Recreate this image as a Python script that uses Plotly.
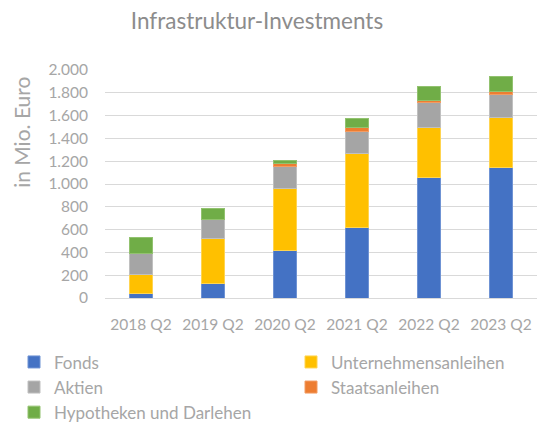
import plotly.graph_objects as go

categories = ["2018 Q2", "2019 Q2", "2020 Q2", "2021 Q2", "2022 Q2", "2023 Q2"]
fonds = [37, 125, 417, 617, 1060, 1146]
unternehmensanleihen = [169, 397, 543, 652, 434, 439]
aktien = [182, 167, 191, 193, 217, 202]
staatsanleihen = [0, 0, 30, 32, 20, 26]
hypotheken = [140, 96, 25, 82, 122, 134]

series = [
    ("Fonds", fonds, "#4472C4", "#6f93d4", "legend"),
    ("Unternehmensanleihen", unternehmensanleihen, "#FFC000", "#ffd450", "legend2"),
    ("Aktien", aktien, "#A5A5A5", "#c0c0c0", "legend"),
    ("Staatsanleihen", staatsanleihen, "#ED7D31", "#f29c63", "legend2"),
    ("Hypotheken und Darlehen", hypotheken, "#70AD47", "#92c26f", "legend"),
]

FONT = "Lato"
GRAY = "#a6a6a6"
PL, PT, PW, PH = 105, 70, 432, 228.5

fig = go.Figure()
for name, vals, col, edge, lg in series:
    fig.add_trace(go.Bar(
        name=name, x=categories, y=vals, legend=lg,
        marker=dict(color=col, line=dict(color=edge, width=1)),
    ))

legend_common = dict(orientation="v", xanchor="left", yanchor="top",
                     traceorder="normal", bgcolor="rgba(0,0,0,0)",
                     font=dict(family=FONT, size=17, color=GRAY),
                     tracegroupgap=0, itemwidth=30)

fig.update_layout(
    width=538, height=423,
    barmode="stack", bargap=0.68,
    paper_bgcolor="white", plot_bgcolor="white",
    margin=dict(l=PL, r=538 - PL - PW, t=PT, b=423 - PT - PH, autoexpand=False),
    font=dict(family=FONT, color=GRAY, size=15.5),
    title=dict(text="Infrastruktur-Investments", x=257/538, xanchor="center",
               y=1 - 21/423, yanchor="middle",
               font=dict(family=FONT, size=22.5, color="#8c8c8c")),
    showlegend=True,
    legend=dict(x=(14 - PL) / PW, y=-(345 - PT - PH) / PH, **legend_common),
    legend2=dict(x=(291 - PL) / PW, y=-(345 - PT - PH) / PH, **legend_common),
    separators=",.",
)
fig.update_yaxes(range=[0, 2000], dtick=200, tickformat=",d",
                 showgrid=True, gridcolor="#d9d9d9",
                 gridwidth=1, zeroline=False, showline=False,
                 ticklabelstandoff=16, tickfont=dict(size=15.5, color=GRAY))
fig.update_xaxes(showline=True, linecolor="#d9d9d9", linewidth=1,
                 ticklabelstandoff=12, tickfont=dict(size=15.5, color=GRAY))
fig.add_annotation(text="in Mio. Euro", xref="paper", yref="paper",
                   x=-(PL - 22) / PW, y=(PT + PH - 133) / PH,
                   textangle=-90, showarrow=False, xanchor="center", yanchor="middle",
                   font=dict(family=FONT, size=21, color=GRAY))

fig.write_html("out.html", config={"displayModeBar": False},
               post_script="document.body.style.margin='0';")
